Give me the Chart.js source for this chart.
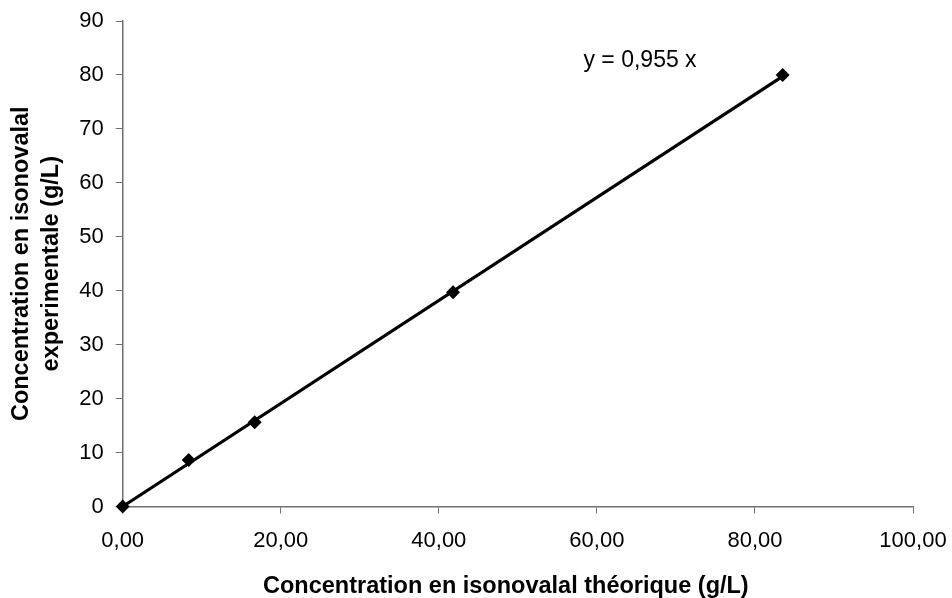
<!DOCTYPE html>
<html>
<head>
<meta charset="utf-8">
<script src="https://cdn.jsdelivr.net/npm/chart.js@4/dist/chart.umd.min.js"></script>
<style>
	html, body { margin: 0; padding: 0; background: #fff; }
	#wrap { width: 952px; height: 598px; }
</style>
</head>
<body>
<div id="wrap"><canvas id="chart"></canvas></div>
<script>
'use strict';

// measured points
const theoX = [0, 8.35, 16.7, 41.8, 83.5];
const expY = [0, 8.6, 15.6, 39.7, 80.0];

// trend line (y = 0,955 x) end points
const trendX = [0, 83.5];
const trendY = [0, 79.74];

const equationText = 'y = 0,955 x';
const equationPos = [58.3, 82.7];

const xTitle = 'Concentration en isonovalal théorique (g/L)';
const yTitle = ['Concentration en isonovalal', 'experimentale (g/L)'];

const toPoints = ( xs, ys ) => xs.map( ( x, i ) => ( { x: x, y: ys[ i ] } ) );

const family = '"Liberation Sans", Arial, sans-serif';
const font = { family: family, size: 22 };
const titleFont = { family: family, size: 23.5, weight: 'bold', lineHeight: 1.3 };
const axisColor = '#707070';

// equation label and x title, drawn on the canvas
const extraText = {
	id: 'extraText',
	afterDraw: function ( chart ) {
		const ctx = chart.ctx;
		const area = chart.chartArea;
		const px = chart.scales.x.getPixelForValue( equationPos[ 0 ] );
		const py = chart.scales.y.getPixelForValue( equationPos[ 1 ] );
		ctx.save();
		ctx.fillStyle = '#000';
		ctx.font = '23px ' + family;
		ctx.textAlign = 'left';
		ctx.textBaseline = 'middle';
		ctx.fillText( equationText, px, py );

		ctx.font = 'bold 23.5px ' + family;
		ctx.textAlign = 'center';
		ctx.textBaseline = 'alphabetic';
		ctx.fillText( xTitle, ( area.left + area.right ) / 2 - 12, 593 );
		ctx.restore();
	}
};

new Chart( document.getElementById( 'chart' ), {
	type: 'scatter',
	data: {
		datasets: [
			{
				label: 'trend',
				data: toPoints( trendX, trendY ),
				showLine: true,
				borderColor: '#000',
				borderWidth: 3.2,
				pointRadius: 0,
				fill: false,
				clip: false,
			},
			{
				label: 'mesures',
				data: toPoints( theoX, expY ),
				pointStyle: 'rectRot',
				pointRadius: 7,
				backgroundColor: '#000',
				borderColor: '#000',
				borderWidth: 0,
				clip: false,
			},
		],
	},
	options: {
		responsive: true,
		maintainAspectRatio: false,
		animation: false,
		layout: { padding: { top: 21, right: 39, left: 0, bottom: 0 } },
		plugins: {
			legend: { display: false },
			tooltip: { enabled: false },
		},
		scales: {
			x: {
				type: 'linear',
				min: 0,
				max: 100,
				ticks: {
					stepSize: 20,
					color: '#000',
					font: font,
					padding: 14,
					maxRotation: 0,
					callback: ( v ) => v.toFixed( 2 ).replace( '.', ',' ),
				},
				grid: { drawOnChartArea: false, drawTicks: true, tickLength: 7, color: axisColor },
				border: { display: true, color: axisColor, width: 1.5 },
				title: { display: false },
				afterFit: ( scale ) => {
					scale.height = 91.5;
					scale.paddingLeft = 0;
					scale.paddingRight = 0;
				},
			},
			y: {
				type: 'linear',
				min: 0,
				max: 90,
				ticks: {
					stepSize: 10,
					color: '#000',
					font: font,
					padding: 12,
				},
				grid: { drawOnChartArea: false, drawTicks: true, tickLength: 7, color: axisColor },
				border: { display: true, color: axisColor, width: 1.5 },
				title: {
					display: true,
					text: yTitle,
					color: '#000',
					font: titleFont,
					padding: { top: 6, bottom: 0 },
				},
				afterFit: ( scale ) => {
					scale.width = 122.7;
					scale.paddingTop = 0;
					scale.paddingBottom = 0;
				},
			},
		},
	},
	plugins: [ extraText ],
} );
</script>
</body>
</html>
